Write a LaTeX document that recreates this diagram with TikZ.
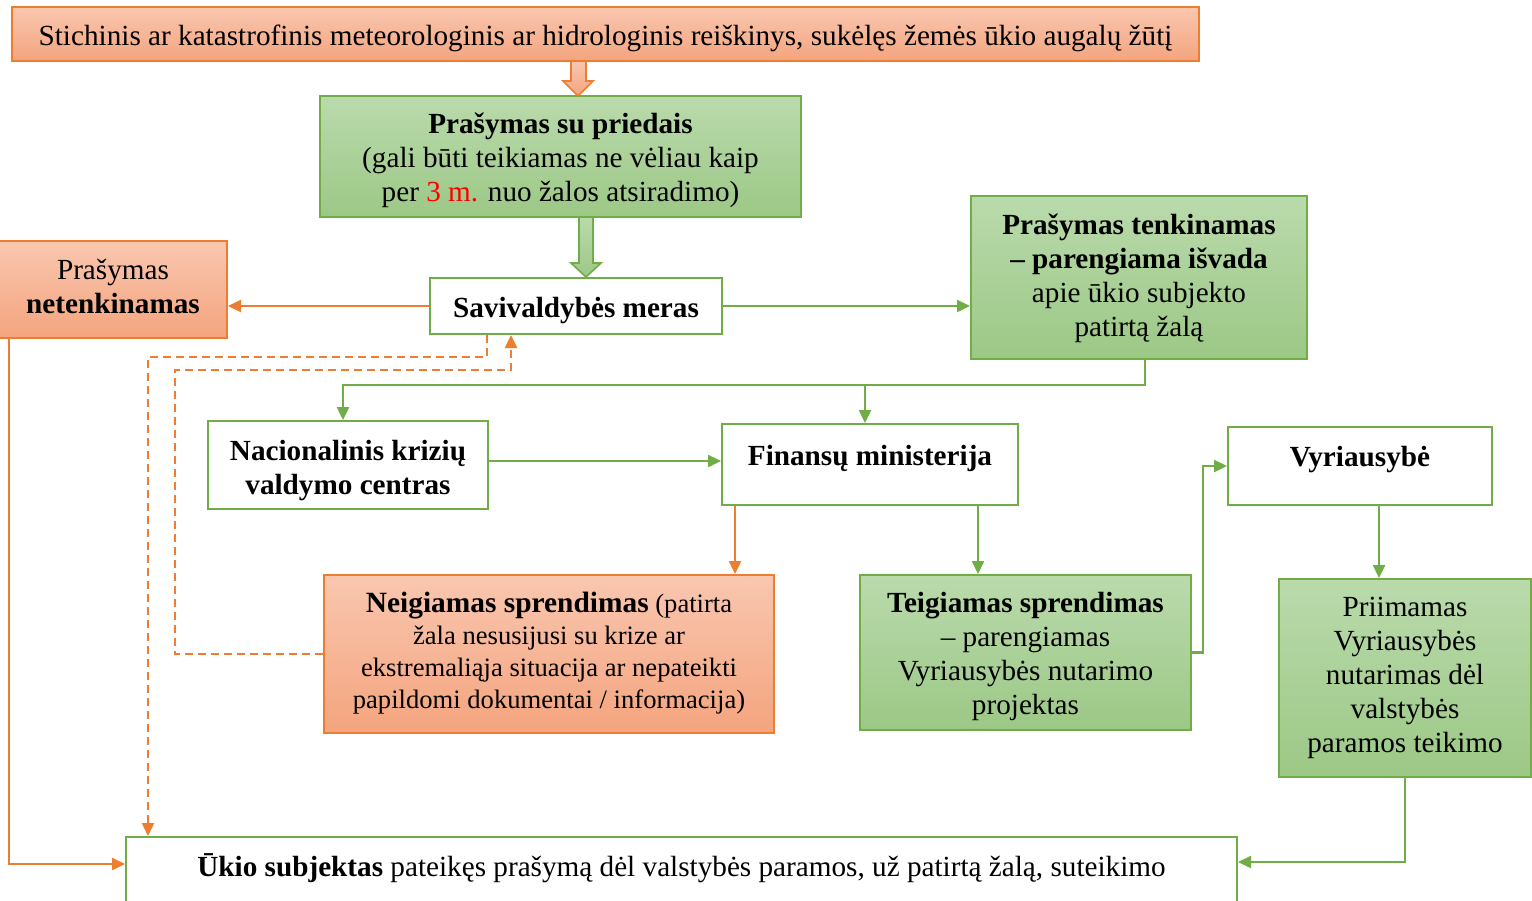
\documentclass[tikz,border=0pt]{standalone}
\usepackage{fontspec}
\setmainfont{Liberation Serif}
\usetikzlibrary{arrows.meta}
\definecolor{oline}{HTML}{ED7D31}
\definecolor{gline}{HTML}{70AD47}
\definecolor{otop}{HTML}{F9C7B0}
\definecolor{obot}{HTML}{F4A47E}
\definecolor{gtop}{HTML}{BADAAC}
\definecolor{gbot}{HTML}{9CC886}
\definecolor{redtxt}{HTML}{FF0000}
\newcommand\tx[2]{\raisebox{#1}[\height][\depth]{\begin{tabular}{@{}c@{}}#2\end{tabular}}}
\tikzset{
 box/.style={rectangle, inner sep=0pt, align=center, line width=1pt, font=\fontsize{14.6}{17}\selectfont},
 obox/.style={box, draw=oline, top color=otop, bottom color=obot},
 gbox/.style={box, draw=gline, top color=gtop, bottom color=gbot},
 wbox/.style={box, draw=gline, fill=white},
 tip/.style={-{Triangle[width=6pt,length=6.5pt]}},
 garrow/.style={draw=gline, line width=1.2pt, tip},
 oarrow/.style={draw=oline, line width=1.2pt, tip},
 odash/.style={oarrow, dash pattern=on 4pt off 2.5pt},
 blockarrow/.style={line width=0.8pt, shading angle=0},
}
\begin{document}
\begin{tikzpicture}[x=0.5pt,y=-0.5pt]
\useasboundingbox (0,0) rectangle (1532,900);
\clip (0,0) rectangle (1532,900);

% boxes
\node[obox, minimum width=593.5pt, minimum height=27pt] (top) at (605.5,34)
  {\tx{-2.5pt}{Stichinis ar katastrofinis meteorologinis ar hidrologinis reiškinys, sukėlęs žemės ūkio augalų žūtį}};
\node[gbox, minimum width=240.5pt, minimum height=60.5pt] (pried) at (560.5,156.5)
  {\tx{-2.25pt}{\textbf{Prašymas su priedais}\\(gali būti teikiamas ne vėliau kaip\\per \textcolor{redtxt}{3 m.} nuo žalos atsiradimo)}};
\node[wbox, minimum width=146pt, minimum height=28pt] (meras) at (576,306)
  {\tx{-2.5pt}{\textbf{Savivaldybės meras}}};
\node[obox, minimum width=114pt, minimum height=48.5pt] (netenk) at (113,289.5)
  {\tx{0pt}{Prašymas\\\textbf{netenkinamas}}};
\node[gbox, minimum width=168pt, minimum height=81.5pt] (tenk) at (1139,277.5)
  {\tx{-0.75pt}{\textbf{Prašymas tenkinamas}\\\textbf{– parengiama išvada}\\apie ūkio subjekto\\patirtą žalą}};
\node[wbox, minimum width=140pt, minimum height=44pt] (nkvc) at (348,465)
  {\tx{-3pt}{\textbf{Nacionalinis krizių}\\\textbf{valdymo centras}}};
\node[wbox, minimum width=148pt, minimum height=40.5pt] (fin) at (870,464.5)
  {\tx{2.75pt}{\textbf{Finansų ministerija}}};
\node[obox, minimum width=225pt, minimum height=79pt, font=\fontsize{13.3}{16}\selectfont] (neig) at (549,654)
  {\tx{0pt}{\textbf{\fontsize{14.7}{16}\selectfont Neigiamas sprendimas} (patirta\\žala nesusijusi su krize ar\\ekstremaliąja situacija ar nepateikti\\papildomi dokumentai / informacija)}};
\node[gbox, minimum width=165.5pt, minimum height=77.5pt] (teig) at (1025.5,652.5)
  {\tx{-2.25pt}{\textbf{Teigiamas sprendimas}\\– parengiamas\\Vyriausybės nutarimo\\projektas}};
\node[wbox, minimum width=132pt, minimum height=39pt] (vyr) at (1360,466)
  {\tx{3pt}{\textbf{Vyriausybė}}};
\node[gbox, minimum width=126pt, minimum height=99pt] (priim) at (1405,678)
  {\tx{0.25pt}{Priimamas\\Vyriausybės\\nutarimas dėl\\valstybės\\paramos teikimo}};
\node[wbox, minimum width=555.5pt, minimum height=35pt] (ukio) at (681.5,872)
  {\tx{1pt}{\textbf{Ūkio subjektas} pateikęs prašymą dėl valstybės paramos, už patirtą žalą, suteikimo}};

% block arrows
\draw[blockarrow, draw=oline, top color=otop, bottom color=obot]
  (571,61) -- (586,61) -- (586,81) -- (593,81) -- (578,96) -- (563,81) -- (571,81) -- cycle;
\draw[blockarrow, draw=gline, top color=gtop, bottom color=gbot]
  (579,217) -- (593,217) -- (593,263) -- (601,263) -- (586,277) -- (571,263) -- (579,263) -- cycle;

% connectors
\draw[oarrow] (meras.west) -- (netenk.east |- meras.west);
\draw[garrow] (meras.east) -- (tenk.west |- meras.east);

\coordinate (j1) at (1145,385);
\draw[garrow] (tenk.south -| j1) -- (j1) -| ([xshift=-2.5pt]nkvc.north);
\draw[garrow] ([xshift=-2.5pt]fin.north |- j1) -- ([xshift=-2.5pt]fin.north);
\draw[garrow] ([yshift=2pt]nkvc.east) -- ([yshift=2pt]fin.west |- nkvc.east);

\coordinate (f1) at ([xshift=7pt]fin.south west);
\coordinate (f2) at ([xshift=-20.5pt]fin.south east);
\draw[oarrow] (f1) -- (f1 |- neig.north);
\draw[garrow] (f2) -- (f2 |- teig.north);

\draw[garrow] (teig.east) -- ++(11,0) |- (vyr.west);
\coordinate (v1) at ([xshift=9.5pt]vyr.south);
\draw[garrow] (v1) -- (v1 |- priim.north);
\draw[garrow] (priim.south) |- ([yshift=5pt]ukio.east);

\coordinate (n1) at (9,338);
\draw[oarrow] (n1) |- ([yshift=4pt]ukio.west);

\coordinate (m1) at ([xshift=29pt]meras.south west);
\coordinate (d1) at (148,357);
\draw[odash] (m1) |- (d1) -- (d1 |- ukio.north);

\coordinate (m2) at ([xshift=41pt]meras.south west);
\coordinate (d2) at (175,370);
\draw[odash] (neig.west) -| (d2) -- (d2 -| m2) -- (m2);
\end{tikzpicture}
\end{document}
